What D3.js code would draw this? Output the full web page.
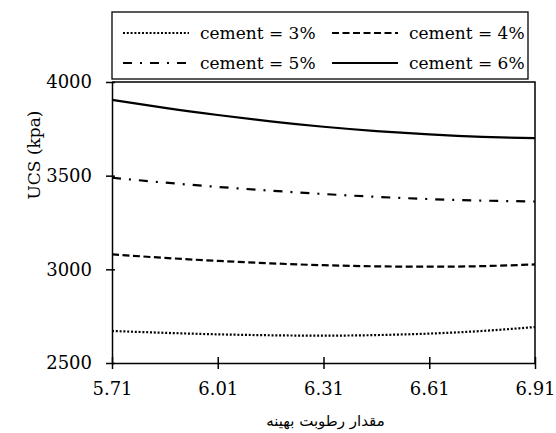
<!DOCTYPE html>
<html>
<head>
<meta charset="utf-8">
<script src="https://cdn.jsdelivr.net/npm/d3@7"></script>
<style>
  html, body { margin: 0; padding: 0; background: #fff; }
  svg { display: block; }
  text { font-family: "DejaVu Serif", serif; fill: #000; }
</style>
</head>
<body>
<svg id="chart" width="556" height="433"></svg>
<script>
// Optimum moisture content (x) and UCS values per cement content
const moisture = [5.71, 5.86, 6.01, 6.16, 6.31, 6.46, 6.61, 6.76, 6.91];
const ucs3 = [2671, 2661, 2653, 2648, 2646, 2649, 2657, 2671, 2692];
const ucs4 = [3080, 3061, 3045, 3032, 3022, 3016, 3014, 3017, 3026];
const ucs5 = [3489, 3463, 3440, 3420, 3402, 3387, 3375, 3367, 3362];
const ucs6 = [3905, 3862, 3824, 3790, 3761, 3738, 3720, 3707, 3700];
const seriesNames = ["cement = 3%", "cement = 4%", "cement = 5%", "cement = 6%"];
const xTicks = [5.71, 6.01, 6.31, 6.61, 6.91];
const yTicks = [2500, 3000, 3500, 4000];

const dashes = ["2,1.8", "7,3.5", "9,8,2,8", null];
const series = [ucs3, ucs4, ucs5, ucs6].map((vals, i) => ({
  name: seriesNames[i], dash: dashes[i],
  points: moisture.map((m, j) => [m, vals[j]])
}));

const svg = d3.select("#chart");
const mLeft = 112, mRight = 535, mTop = 82, mBottom = 363;

const x = d3.scaleLinear().domain([5.71, 6.91]).range([mLeft, mRight]);
const y = d3.scaleLinear().domain([2500, 4000]).range([mBottom, mTop]);

// plot frame (top and right edges)
svg.append("path")
  .attr("d", `M${mLeft},${mTop}H${mRight}V${mBottom}`)
  .attr("fill", "none").attr("stroke", "#000").attr("stroke-width", 1.5);

// data lines
const line = d3.line().x(d => x(d[0])).y(d => y(d[1])).curve(d3.curveNatural);
svg.append("g").selectAll("path").data(series).join("path")
  .attr("d", d => line(d.points))
  .attr("fill", "none").attr("stroke", "#000")
  .attr("stroke-width", 2.2)
  .attr("stroke-dasharray", d => d.dash);

// axes
const xAxis = d3.axisBottom(x).tickValues(xTicks).tickFormat(d3.format(".2f"))
  .tickSizeInner(0).tickSizeOuter(0).tickPadding(19);
const gx = svg.append("g").attr("transform", `translate(0,${mBottom})`).call(xAxis);
gx.selectAll(".tick").append("line").attr("y1", -6).attr("y2", 6)
  .attr("stroke", "#000").attr("stroke-width", 1.5);

const yAxis = d3.axisLeft(y).tickValues(yTicks).tickFormat(d3.format("d"))
  .tickSizeInner(0).tickSizeOuter(0).tickPadding(20);
const gy = svg.append("g").attr("transform", `translate(${mLeft},0)`).call(yAxis);
gy.selectAll(".tick").append("line").attr("x1", -6).attr("x2", 3)
  .attr("stroke", "#000").attr("stroke-width", 1.5);

[gx, gy].forEach(g => {
  g.select(".domain").attr("stroke", "#000").attr("stroke-width", 1.5);
  g.selectAll(".tick text").style("font-family", "'DejaVu Serif', serif")
    .style("font-size", "18px").attr("fill", "#000");
});

// axis titles
svg.append("text")
  .attr("transform", `translate(40,155) rotate(-90)`)
  .attr("text-anchor", "middle").attr("font-size", "17px")
  .text("UCS (kpa)");
svg.append("text")
  .attr("x", (mLeft + mRight) / 2 + 2).attr("y", 426)
  .attr("text-anchor", "middle")
  .style("font-family", "'DejaVu Sans', sans-serif").attr("font-size", "15px")
  .text("مقدار رطوبت بهینه");

// legend
const legend = svg.append("g");
legend.append("rect").attr("x", 112).attr("y", 12).attr("width", 416).attr("height", 67)
  .attr("fill", "#fff").attr("stroke", "#000").attr("stroke-width", 1.3);
const legPos = [[123, 33], [332, 33], [123, 63], [332, 63]];
series.forEach((s, i) => {
  const [lx, ly] = legPos[i];
  legend.append("line").attr("x1", lx).attr("x2", lx + 66).attr("y1", ly).attr("y2", ly)
    .attr("stroke", "#000").attr("stroke-width", 2)
    .attr("stroke-dasharray", s.dash);
  legend.append("text").attr("x", lx + 77).attr("y", ly).attr("dy", "0.35em")
    .attr("font-size", "17px").text(s.name);
});
</script>
</body>
</html>
